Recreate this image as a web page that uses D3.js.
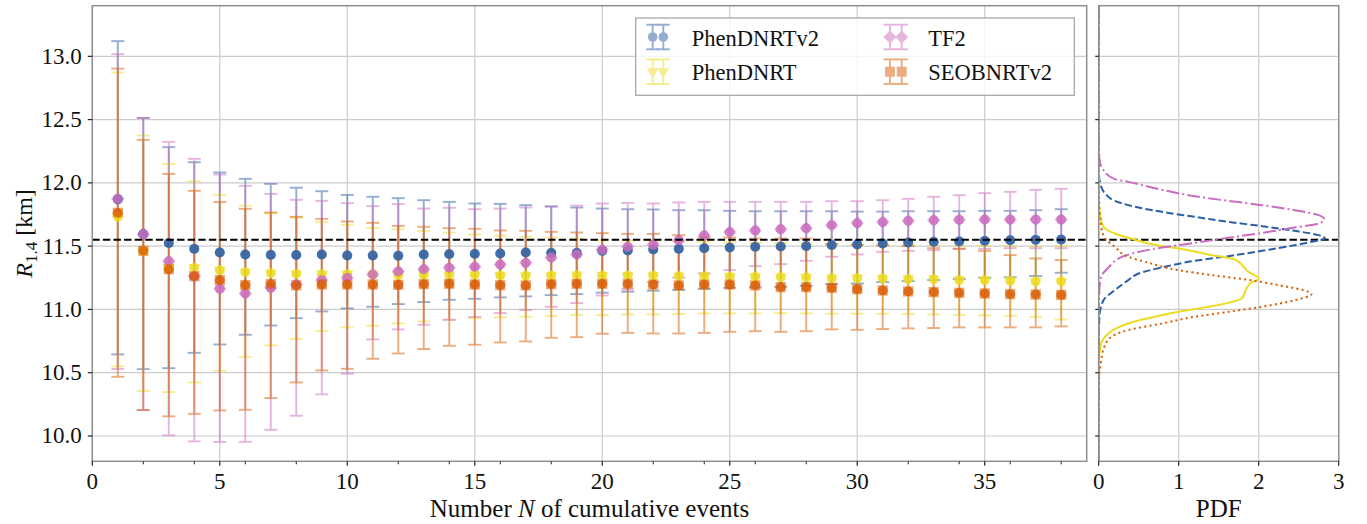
<!DOCTYPE html>
<html><head><meta charset="utf-8">
<script src="https://cdn.jsdelivr.net/npm/d3@7"></script>
<style>
body{margin:0;background:#fff}
svg{display:block}
text{font-family:"Liberation Serif","Times New Roman",serif;fill:#111}
</style>
</head><body>
<svg id="c" width="1367" height="524"></svg>
<script>
// ---------------- data ----------------
const events = [1,2,3,4,5,6,7,8,9,10,11,12,13,14,15,16,17,18,19,20,21,22,23,24,25,26,27,28,29,30,31,32,33,34,35,36,37,38];

const phenV2Mid = [11.87,11.595,11.524,11.479,11.45,11.434,11.431,11.43,11.434,11.426,11.426,11.424,11.434,11.437,11.439,11.442,11.45,11.447,11.447,11.463,11.466,11.474,11.479,11.484,11.489,11.495,11.497,11.50,11.508,11.513,11.521,11.529,11.534,11.537,11.542,11.547,11.55,11.552];
const phenV2Lo  = [10.645,10.528,10.536,10.657,10.723,10.80,10.873,10.931,10.984,11.008,11.021,11.042,11.058,11.076,11.084,11.095,11.103,11.113,11.121,11.132,11.140,11.148,11.155,11.163,11.171,11.174,11.179,11.187,11.20,11.205,11.216,11.224,11.232,11.24,11.25,11.254,11.264,11.29];
const phenV2Hi  = [13.12,12.513,12.282,12.163,12.082,12.032,11.992,11.962,11.934,11.905,11.89,11.879,11.863,11.85,11.837,11.834,11.824,11.815,11.805,11.797,11.792,11.79,11.784,11.784,11.779,11.776,11.776,11.776,11.776,11.773,11.773,11.776,11.776,11.776,11.779,11.779,11.784,11.792];

const phenMid = [11.732,11.46,11.33,11.329,11.31,11.295,11.287,11.281,11.279,11.279,11.276,11.271,11.271,11.274,11.274,11.268,11.266,11.268,11.271,11.268,11.268,11.268,11.263,11.263,11.26,11.258,11.255,11.253,11.247,11.247,11.245,11.24,11.24,11.232,11.232,11.226,11.221,11.221];
const phenLo  = [10.55,10.355,10.347,10.423,10.515,10.623,10.716,10.768,10.829,10.858,10.871,10.889,10.905,10.918,10.93,10.937,10.942,10.947,10.955,10.955,10.96,10.96,10.963,10.968,10.968,10.968,10.971,10.968,10.966,10.966,10.966,10.963,10.961,10.955,10.953,10.95,10.94,10.92];
const phenHi  = [12.872,12.374,12.15,12.013,11.905,11.821,11.76,11.725,11.69,11.669,11.642,11.634,11.621,11.608,11.592,11.582,11.574,11.568,11.561,11.547,11.542,11.54,11.537,11.535,11.53,11.527,11.525,11.52,11.516,11.514,11.512,11.51,11.508,11.505,11.503,11.50,11.50,11.50];

const tf2Mid = [11.874,11.595,11.381,11.263,11.163,11.126,11.171,11.197,11.232,11.25,11.276,11.30,11.318,11.329,11.337,11.355,11.368,11.411,11.434,11.471,11.495,11.511,11.547,11.584,11.611,11.624,11.634,11.642,11.666,11.682,11.69,11.70,11.705,11.708,11.71,11.71,11.71,11.71];
const tf2Lo  = [10.53,10.205,10.005,9.957,9.952,9.954,10.049,10.16,10.329,10.492,10.763,10.842,10.879,10.918,10.94,10.971,10.995,11.021,11.05,11.11,11.158,11.216,11.25,11.284,11.311,11.342,11.358,11.384,11.416,11.434,11.455,11.463,11.468,11.479,11.479,11.484,11.484,11.484];
const tf2Hi  = [13.017,12.513,12.324,12.19,12.066,11.977,11.913,11.866,11.858,11.84,11.816,11.832,11.797,11.803,11.792,11.797,11.805,11.811,11.82,11.837,11.842,11.837,11.845,11.85,11.85,11.85,11.85,11.85,11.855,11.855,11.863,11.874,11.89,11.903,11.919,11.929,11.945,11.953];

const seobMid = [11.763,11.463,11.318,11.263,11.231,11.192,11.20,11.19,11.197,11.197,11.197,11.195,11.20,11.203,11.197,11.192,11.19,11.20,11.203,11.203,11.203,11.197,11.19,11.197,11.197,11.19,11.176,11.176,11.171,11.16,11.15,11.142,11.137,11.131,11.126,11.121,11.118,11.115];
const seobLo  = [10.468,10.205,10.155,10.175,10.202,10.207,10.30,10.423,10.518,10.531,10.61,10.652,10.687,10.713,10.721,10.739,10.747,10.776,10.781,10.808,10.815,10.81,10.81,10.815,10.823,10.828,10.823,10.828,10.842,10.839,10.845,10.85,10.853,10.858,10.858,10.858,10.858,10.866];
const seobHi  = [12.903,12.34,12.071,11.937,11.848,11.795,11.766,11.732,11.716,11.695,11.684,11.66,11.653,11.642,11.637,11.624,11.621,11.613,11.608,11.603,11.597,11.597,11.587,11.568,11.568,11.56,11.56,11.56,11.516,11.51,11.505,11.50,11.484,11.48,11.463,11.429,11.403,11.39];

const seriesNames = ["PhenDNRTv2","PhenDNRT","TF2","SEOBNRTv2"];
const seriesColors = ["#2b5fa4","#ecdc1f","#cc6cc0","#d95d02"];

// PDF curves (R value, density)
const pdfPhenV2R = [9.8,10.8,10.95,11.073,11.152,11.231,11.284,11.332,11.384,11.421,11.463,11.508,11.534,11.561,11.587,11.621,11.658,11.692,11.732,11.771,11.824,11.858,11.916,11.995,12.05,12.2,13.4];
const pdfPhenV2D = [0,0.002,0.01,0.06,0.20,0.37,0.50,0.79,1.20,1.62,2.04,2.45,2.66,2.83,2.75,2.45,2.04,1.62,1.20,0.79,0.37,0.20,0.08,0.02,0.005,0.001,0];

const pdfPhenR = [9.8,10.6,10.705,10.81,10.889,10.981,11.052,11.087,11.14,11.205,11.245,11.297,11.337,11.395,11.43,11.482,11.5,11.566,11.6,11.653,11.732,11.85,13.4];
const pdfPhenD = [0,0.005,0.02,0.12,0.37,1.0,1.62,1.79,1.83,1.89,2.0,1.87,1.81,1.70,1.40,1.0,0.79,0.37,0.20,0.06,0.02,0.003,0];

const pdfTf2R = [9.8,10.9,11.1,11.2,11.258,11.33,11.42,11.489,11.526,11.566,11.605,11.647,11.679,11.713,11.745,11.784,11.824,11.858,11.895,11.945,12.008,12.03,12.1,12.15,12.25,13.4];
const pdfTf2D = [0,0.001,0.005,0.015,0.03,0.12,0.31,0.79,1.20,1.62,2.04,2.45,2.75,2.82,2.75,2.45,2.04,1.62,1.20,0.79,0.37,0.20,0.06,0.02,0.003,0];

const pdfSeobR = [9.8,10.45,10.55,10.626,10.705,10.784,10.837,10.889,10.942,10.981,11.021,11.073,11.121,11.139,11.192,11.237,11.271,11.31,11.376,11.416,11.495,11.561,11.626,11.73,11.85,12.0,13.4];
const pdfSeobD = [0,0.005,0.02,0.04,0.07,0.16,0.37,0.79,1.20,1.62,2.04,2.45,2.66,2.62,2.25,1.83,1.41,1.0,0.58,0.37,0.2,0.08,0.04,0.02,0.005,0.001,0];

const refRadius = 11.55;
const yTicks = [10.0,10.5,11.0,11.5,12.0,12.5,13.0];
const xTicksMain = [0,5,10,15,20,25,30,35];
const xMinorMain = [2,4,6,8,12,14,16,18,22,24,26,28,32,34,36,38];
const xTicksPdf = [0,1,2,3];

(function(){
// ---------------- scales ----------------
const svg = d3.select("#c");
const mL = 92.3, mR = 1086.7, mT = 5.7, mB = 461.3;
const pL = 1098.7, pR = 1338.7;
const x = d3.scaleLinear().domain([0,39]).range([mL,mR]);
const y = d3.scaleLinear().domain([9.8,13.4]).range([mB,mT]);
const xp = d3.scaleLinear().domain([0,3]).range([pL,pR]);

const gridCol = "#cccccc", spineCol = "#8f8f8f", tickCol = "#222";

// ---------------- grid ----------------
const g = svg.append("g");
g.selectAll(".gy").data(yTicks).join("line")
  .attr("x1",mL).attr("x2",mR).attr("y1",d=>y(d)).attr("y2",d=>y(d))
  .attr("stroke",gridCol).attr("stroke-width",1.2);
g.selectAll(".gx").data(xTicksMain).join("line")
  .attr("x1",d=>x(d)).attr("x2",d=>x(d)).attr("y1",mT).attr("y2",mB)
  .attr("stroke",gridCol).attr("stroke-width",1.2);
g.selectAll(".gpy").data(yTicks).join("line")
  .attr("x1",pL).attr("x2",pR).attr("y1",d=>y(d)).attr("y2",d=>y(d))
  .attr("stroke",gridCol).attr("stroke-width",1.2);
g.selectAll(".gpx").data(xTicksPdf).join("line")
  .attr("x1",d=>xp(d)).attr("x2",d=>xp(d)).attr("y1",mT).attr("y2",mB)
  .attr("stroke",gridCol).attr("stroke-width",1.2);

// ---------------- series ----------------
const series = [
  {name:seriesNames[0], color:seriesColors[0], mid:phenV2Mid, lo:phenV2Lo, hi:phenV2Hi, sym:"circle"},
  {name:seriesNames[1], color:seriesColors[1], mid:phenMid,   lo:phenLo,   hi:phenHi,   sym:"tri"},
  {name:seriesNames[2], color:seriesColors[2], mid:tf2Mid,    lo:tf2Lo,    hi:tf2Hi,    sym:"diamond"},
  {name:seriesNames[3], color:seriesColors[3], mid:seobMid,   lo:seobLo,   hi:seobHi,   sym:"square"}
];

function symPath(kind, scale){
  scale = scale || 1;
  if(kind==="circle") return d3.symbol(d3.symbolCircle, 80*scale*scale)();
  if(kind==="tri") return d3.symbol(d3.symbolTriangle, 66*scale*scale)();
  if(kind==="diamond") return d3.symbol(d3.symbolSquare, 92*scale*scale)();
  return d3.symbol(d3.symbolSquare, 108*scale*scale)();
}
function symRot(kind){ return kind==="tri" ? 180 : (kind==="diamond" ? 45 : 0); }

const capW = 6.5;
const defs = svg.append("defs");
defs.append("clipPath").attr("id","clipMain")
  .append("rect").attr("x",mL).attr("y",mT).attr("width",mR-mL).attr("height",mB-mT);
defs.append("clipPath").attr("id","clipPdf")
  .append("rect").attr("x",pL).attr("y",mT).attr("width",pR-pL).attr("height",mB-mT);

const main = svg.append("g").attr("clip-path","url(#clipMain)");
series.forEach(s=>{
  const gs = main.append("g").attr("opacity",0.5);
  const rows = events.map((n,i)=>({n, m:s.mid[i], lo:s.lo[i], hi:s.hi[i]}));
  gs.selectAll(".v").data(rows).join("line")
    .attr("x1",d=>x(d.n)).attr("x2",d=>x(d.n)).attr("y1",d=>y(d.lo)).attr("y2",d=>y(d.hi))
    .attr("stroke",s.color).attr("stroke-width",1.9);
  gs.selectAll(".ct").data(rows).join("line")
    .attr("x1",d=>x(d.n)-capW).attr("x2",d=>x(d.n)+capW).attr("y1",d=>y(d.hi)).attr("y2",d=>y(d.hi))
    .attr("stroke",s.color).attr("stroke-width",1.9);
  gs.selectAll(".cb").data(rows).join("line")
    .attr("x1",d=>x(d.n)-capW).attr("x2",d=>x(d.n)+capW).attr("y1",d=>y(d.lo)).attr("y2",d=>y(d.lo))
    .attr("stroke",s.color).attr("stroke-width",1.9);
  gs.selectAll(".mk").data(rows).join("path")
    .attr("d",symPath(s.sym))
    .attr("transform",d=>`translate(${x(d.n)},${y(d.m)}) rotate(${symRot(s.sym)})`)
    .attr("fill",s.color);
});
series.forEach(s=>{
  main.append("g").selectAll("circle").data(events.map((n,i)=>({n,m:s.mid[i]}))).join("circle")
    .attr("cx",d=>x(d.n)).attr("cy",d=>y(d.m)).attr("r",4.9)
    .attr("fill",s.color).attr("opacity",0.82);
});

// reference line
[[mL,mR],[pL,pR]].forEach(([a,b])=>{
  svg.append("line").attr("x1",a).attr("x2",b).attr("y1",y(refRadius)).attr("y2",y(refRadius))
    .attr("stroke","#000").attr("stroke-width",2).attr("stroke-dasharray","7.4,3.2");
});

// ---------------- PDF panel ----------------
const pdfSets = [
  {R:pdfPhenV2R, D:pdfPhenV2D, color:seriesColors[0], dash:"7.4,3.2"},
  {R:pdfPhenR,   D:pdfPhenD,   color:seriesColors[1], dash:null},
  {R:pdfTf2R,    D:pdfTf2D,    color:seriesColors[2], dash:"12.8,3.2,2,3.2"},
  {R:pdfSeobR,   D:pdfSeobD,   color:seriesColors[3], dash:"2,3.3"}
];
const pdfLine = d3.line().x(d=>xp(d[1])).y(d=>y(d[0])).curve(d3.curveMonotoneY);
const pg = svg.append("g").attr("clip-path","url(#clipPdf)");
pdfSets.forEach(p=>{
  const pts = p.R.map((r,i)=>[r,p.D[i]]).sort((a,b)=>b[0]-a[0]);
  const path = pg.append("path").attr("d",pdfLine(pts)).attr("fill","none")
    .attr("stroke",p.color).attr("stroke-width",2);
  if(p.dash) path.attr("stroke-dasharray",p.dash);
});

// ---------------- spines & ticks ----------------
svg.append("rect").attr("x",mL).attr("y",mT).attr("width",mR-mL).attr("height",mB-mT)
  .attr("fill","none").attr("stroke",spineCol).attr("stroke-width",1.5);
svg.append("rect").attr("x",pL).attr("y",mT).attr("width",pR-pL).attr("height",mB-mT)
  .attr("fill","none").attr("stroke",spineCol).attr("stroke-width",1.5);

const ax = svg.append("g");
ax.selectAll(".xt").data(xTicksMain).join("line")
  .attr("x1",d=>x(d)).attr("x2",d=>x(d)).attr("y1",mB).attr("y2",mB+4.5)
  .attr("stroke",tickCol).attr("stroke-width",1.2);
ax.selectAll(".xm").data(xMinorMain).join("line")
  .attr("x1",d=>x(d)).attr("x2",d=>x(d)).attr("y1",mB).attr("y2",mB+3)
  .attr("stroke",tickCol).attr("stroke-width",1);
ax.selectAll(".xl").data(xTicksMain).join("text")
  .attr("x",d=>x(d)).attr("y",489).attr("text-anchor","middle").attr("font-size",23)
  .text(d=>d);
ax.selectAll(".yt").data(yTicks).join("line")
  .attr("x1",mL-4.5).attr("x2",mL).attr("y1",d=>y(d)).attr("y2",d=>y(d))
  .attr("stroke",tickCol).attr("stroke-width",1.2);
ax.selectAll(".yl").data(yTicks).join("text")
  .attr("x",mL-10.5).attr("y",d=>y(d)+7.5).attr("text-anchor","end").attr("font-size",23)
  .text(d=>d3.format(".1f")(d));
ax.selectAll(".pyt").data(yTicks).join("line")
  .attr("x1",pL-3.5).attr("x2",pL).attr("y1",d=>y(d)).attr("y2",d=>y(d))
  .attr("stroke",tickCol).attr("stroke-width",1.2);
ax.selectAll(".pxt").data(xTicksPdf).join("line")
  .attr("x1",d=>xp(d)).attr("x2",d=>xp(d)).attr("y1",mB).attr("y2",mB+4.5)
  .attr("stroke",tickCol).attr("stroke-width",1.2);
ax.selectAll(".pxl").data(xTicksPdf).join("text")
  .attr("x",d=>xp(d)).attr("y",489).attr("text-anchor","middle").attr("font-size",23)
  .text(d=>d);

// axis labels
const xl = svg.append("text").attr("x",(mL+mR)/2).attr("y",517).attr("text-anchor","middle").attr("font-size",25);
xl.append("tspan").text("Number ");
xl.append("tspan").attr("font-style","italic").text("N");
xl.append("tspan").text(" of cumulative events");
svg.append("text").attr("x",(pL+pR)/2).attr("y",517).attr("text-anchor","middle").attr("font-size",25).text("PDF");
const yl = svg.append("text").attr("transform",`translate(32,${(mT+mB)/2}) rotate(-90)`)
  .attr("text-anchor","middle").attr("font-size",24);
yl.append("tspan").attr("font-style","italic").text("R");
yl.append("tspan").attr("font-size",17).attr("dy",5).text("1.4");
yl.append("tspan").attr("dy",-5).text(" [km]");

// ---------------- legend ----------------
const lg = svg.append("g");
lg.append("rect").attr("x",635.7).attr("y",18).attr("width",438.6).attr("height",77.3)
  .attr("fill","#fff").attr("fill-opacity",0.8).attr("stroke","#a8a8a8").attr("stroke-width",1.3);
const legPos = [
  {hx:[652.7,663.3], cy:37,   tx:691.7, ty:46.3},
  {hx:[652.7,663.3], cy:71.7, tx:691.7, ty:80.3},
  {hx:[890,901.7],   cy:37,   tx:928.3, ty:46.3},
  {hx:[890,901.7],   cy:71.7, tx:928.3, ty:80.3}
];
series.forEach((s,i)=>{
  const p = legPos[i];
  const hg = lg.append("g").attr("opacity",0.5);
  p.hx.forEach(hx=>{
    hg.append("line").attr("x1",hx).attr("x2",hx).attr("y1",p.cy-12.3).attr("y2",p.cy+12.3)
      .attr("stroke",s.color).attr("stroke-width",1.9);
    [p.cy-12.3,p.cy+12.3].forEach(cy=>hg.append("line").attr("x1",hx-capW).attr("x2",hx+capW)
      .attr("y1",cy).attr("y2",cy).attr("stroke",s.color).attr("stroke-width",1.9));
    hg.append("path").attr("d",symPath(s.sym,0.95))
      .attr("transform",`translate(${hx},${p.cy}) rotate(${symRot(s.sym)})`).attr("fill",s.color);
  });
  lg.append("text").attr("x",p.tx).attr("y",p.ty).attr("font-size",22.5).text(s.name);
});
})();
</script>
</body></html>
